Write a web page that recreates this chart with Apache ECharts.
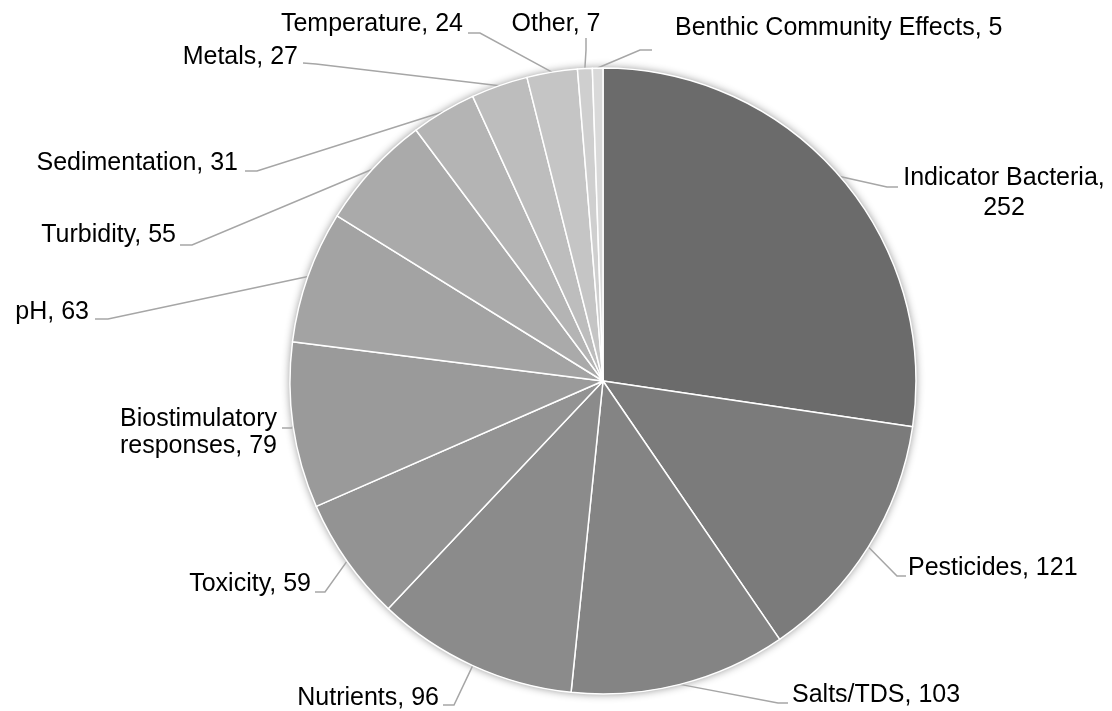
<!DOCTYPE html>
<html>
<head>
<meta charset="utf-8">
<script src="https://cdn.jsdelivr.net/npm/echarts@6/dist/echarts.min.js"></script>
<style>
html,body{margin:0;padding:0;background:#fff;}
#chart{width:1112px;height:711px;}
</style>
</head>
<body>
<div id="chart"></div>
<script>
const categories = ['Indicator Bacteria','Pesticides','Salts/TDS','Nutrients','Toxicity','Biostimulatory responses','pH','Turbidity','Sedimentation','Metals','Temperature','Other','Benthic Community Effects'];
const values = [252,121,103,96,59,79,63,55,31,27,24,7,5];
const colors = ['#6b6b6b','#7b7b7b','#848484','#8b8b8b','#939393','#9a9a9a','#a3a3a3','#aaaaaa','#b4b4b4','#bdbdbd','#c5c5c5','#cfcfcf','#d9d9d9'];

// Label placement: text anchor, leader-line end and bend (layout, not data)
const labelPlace = [
  {x:1004, y:193, align:'center', end:[898,187], bend:[887,187], wrap:'value', lh:30},
  {x:908,  y:568, align:'left',   end:[906,576], bend:[897,576]},
  {x:792,  y:695, align:'left',   end:[788,703], bend:[778,703]},
  {x:439,  y:698, align:'right',  end:[443,705], bend:[454,705]},
  {x:311,  y:584, align:'right',  end:[315,592], bend:[325,592]},
  {x:277,  y:433, align:'right',  end:[282,428], bend:[292,428], wrap:'name', lh:27},
  {x:89,   y:312, align:'right',  end:[95,319],  bend:[108,319]},
  {x:176,  y:235, align:'right',  end:[180,245], bend:[192,245]},
  {x:238,  y:163, align:'right',  end:[245,171], bend:[257,171]},
  {x:298,  y:57,  align:'right',  end:[303,63],  bend:[316,64]},
  {x:463,  y:24,  align:'right',  end:[468,33],  bend:[480,33]},
  {x:556,  y:24,  align:'center', end:[586,38],  bend:[586,50]},
  {x:675,  y:28,  align:'left',   end:[652,50],  bend:[640,50]}
];

const total = values.reduce((a,b)=>a+b,0);
const chart = echarts.init(document.getElementById('chart'), null, {renderer:'canvas'});

const data = categories.map((c,i)=>{
  const lp = labelPlace[i];
  const item = {name:c, value:values[i], itemStyle:{color:colors[i]}};
  if (lp.lh) item.label = {lineHeight: lp.lh};
  return item;
});

chart.setOption({
  backgroundColor:'#ffffff',
  animation:false,
  series:[
    {
      type:'pie', silent:true, center:[603,381], radius:313,
      z:1,
      label:{show:false}, labelLine:{show:false},
      itemStyle:{color:'#ffffff', shadowBlur:9, shadowColor:'rgba(0,0,0,0.45)', shadowOffsetX:0, shadowOffsetY:0},
      data:[{value:total, name:'bg'}]
    },
    {
      type:'pie',
      z:2,
      center:[603,381],
      radius:313,
      startAngle:90,
      clockwise:true,
      avoidLabelOverlap:false,
      itemStyle:{borderColor:'#ffffff', borderWidth:1.5},
      emphasis:{disabled:true},
      label:{
        show:true,
        position:'outside',
        fontFamily:'Liberation Sans, Arial, Helvetica, sans-serif',
        fontSize:25,
        color:'#000000',
        formatter:function(p){
          const lp = labelPlace[p.dataIndex];
          if (lp.wrap === 'value') return p.name + ',\n' + p.value;
          if (lp.wrap === 'name') return p.name.replace(' ', '\n') + ', ' + p.value;
          return p.name + ', ' + p.value;
        }
      },
      labelLine:{show:true, length:10, length2:10, smooth:false, lineStyle:{color:'#a6a6a6', width:1.5}},
      labelLayout:function(params){
        const lp = labelPlace[params.dataIndex];
        const p0 = params.labelLinePoints ? params.labelLinePoints[0] : lp.bend;
        return {
          x: lp.x, y: lp.y, align: lp.align, verticalAlign:'middle',
          labelLinePoints:[p0, lp.bend, lp.end]
        };
      },
      data:data
    }
  ]
});
</script>
</body>
</html>
